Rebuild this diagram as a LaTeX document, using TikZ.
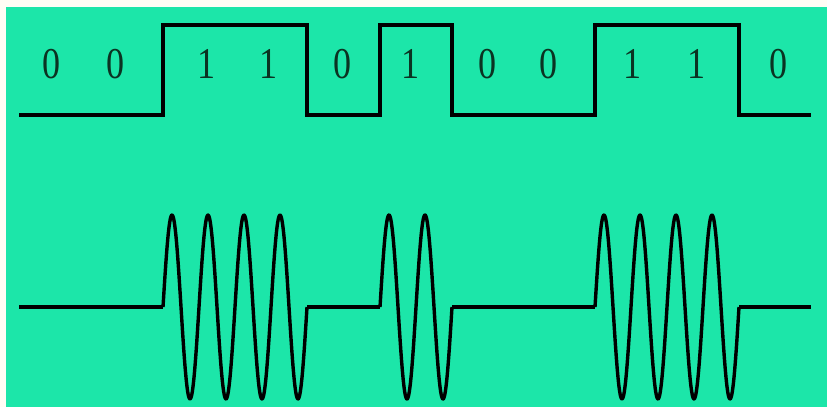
\documentclass[tikz,border=0pt]{standalone}
\usepackage{fontspec}
\setmainfont{Liberation Serif}
\definecolor{bgg}{HTML}{1CE6A9}
\definecolor{edge}{HTML}{FFFDF5}
\definecolor{txt}{HTML}{0B3322}
\begin{document}
\begin{tikzpicture}[x=1pt,y=-1pt,
  wave/.style={line width=3.8pt,black,line join=miter},
  sinew/.style={line width=3.4pt,black,line join=round},
  bit/.style={font=\fontsize{44}{44}\selectfont,text=txt,inner sep=0pt,xscale=0.82}]
\useasboundingbox (0,0) rectangle (827,407);
\fill[edge] (0,0) rectangle (827,407);
\fill[bgg] (6,7) rectangle (827,407);
% digital signal
\draw[wave] (19,115) -- (163,115) -- (163,25) -- (307,25) -- (307,115) -- (380,115) -- (380,25) -- (452,25) -- (452,115) -- (595,115) -- (595,25) -- (739,25) -- (739,115) -- (811,115);
% labels
\foreach \x/\b [count=\i] in {52/0,116/0,207/1,269/1,343/0,411/1,488/0,549/0,633/1,697/1,779/0}
  \node[bit] (b\i) at (\x,64) {\b};
% modulated signal
\draw[wave] (19,307) -- (163,307);
\draw[sinew] plot[domain=163:307,samples=300] (\x,{307-92*sin(10*(\x-163))});
\draw[wave] (307,307) -- (380,307);
\draw[sinew] plot[domain=380:452,samples=200] (\x,{307-92*sin(10*(\x-380))});
\draw[wave] (452,307) -- (595,307);
\draw[sinew] plot[domain=595:739,samples=300] (\x,{307-92*sin(10*(\x-595))});
\draw[wave] (739,307) -- (811,307);
\end{tikzpicture}
\end{document}
